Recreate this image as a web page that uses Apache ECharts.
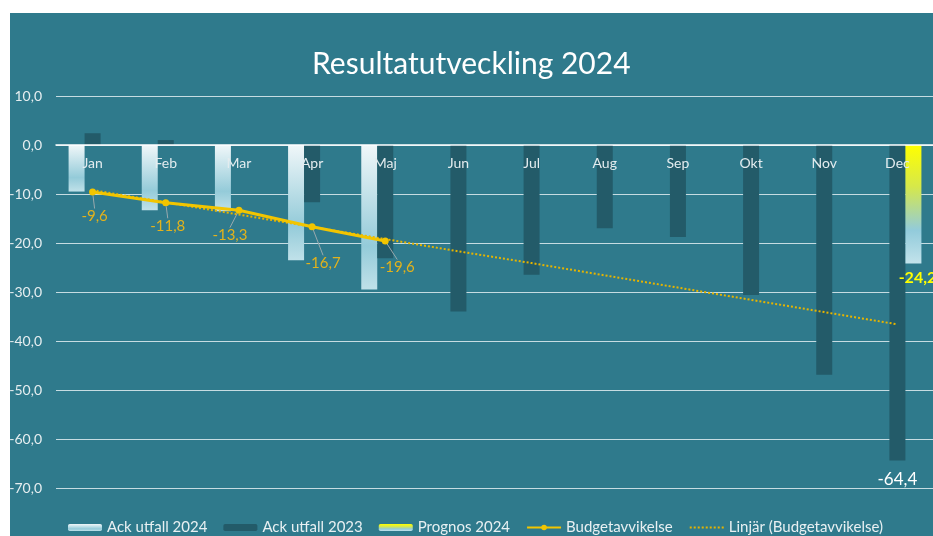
<!DOCTYPE html>
<html>
<head>
<meta charset="utf-8">
<script src="https://cdn.jsdelivr.net/npm/echarts@6/dist/echarts.min.js"></script>
<style>
  html, body { margin: 0; padding: 0; background: #fff; }
  #bg { position: absolute; left: 10px; top: 13px; width: 923px; height: 523px; background: #2F7A8C; }
  #chart { position: absolute; left: 0; top: 0; width: 933px; height: 536px; }
</style>
</head>
<body>
<div id="bg"></div>
<div id="chart"></div>
<script>
const months = ["Jan", "Feb", "Mar", "Apr", "Maj", "Jun", "Jul", "Aug", "Sep", "Okt", "Nov", "Dec"];
const ackUtfall2024 = [-9.5, -13.3, -13.5, -23.5, -29.5, null, null, null, null, null, null, null];
const ackUtfall2023 = [2.4, 1.0, 0, -11.7, -23.1, -34.0, -26.5, -17.0, -18.8, -30.6, -46.9, -64.4];
const prognos2024 = [null, null, null, null, null, null, null, null, null, null, null, -24.2];
const budgetavvikelse = [-9.6, -11.8, -13.3, -16.7, -19.6, null, null, null, null, null, null, null];
const linjar = [-9.2, -11.7, -14.2, -16.7, -19.2, -21.7, -24.1, -26.6, -29.1, -31.6, -34.1, -36.6];

const font = "Lato";
const fmt = (v) => Number(v).toFixed(1).replace(".", ",");

// label offsets for the Budgetavvikelse labels (dx, dy)
const lineLabelShift = [[2, 8], [2, 7], [-9, 9], [11, 20], [12, 10]];

const lightGrad = new echarts.graphic.LinearGradient(0, 0, 0, 1, [
  { offset: 0, color: "#f0f7f9" },
  { offset: 0.7, color: "#94cbd9" },
  { offset: 1, color: "#c0e1e9" },
]);
const prognosGrad = new echarts.graphic.LinearGradient(0, 0, 0, 1, [
  { offset: 0, color: "#ffff00" },
  { offset: 0.35, color: "#d6e84a" },
  { offset: 0.72, color: "#92cbdb" },
  { offset: 1, color: "#c3e3eb" },
]);

const chart = echarts.init(document.getElementById("chart"));
chart.setOption({
  backgroundColor: "transparent",
  animation: false,
  textStyle: { fontFamily: font },
  title: {
    text: "Resultatutveckling 2024",
    left: 307,
    top: 44,
    textStyle: { color: "#ffffff", fontSize: 30, fontWeight: "normal", fontFamily: font },
  },
  legend: {
    left: 63,
    top: 515,
    itemWidth: 34,
    itemHeight: 7,
    itemGap: 16,
    textStyle: { color: "#e8f0f2", fontSize: 15, fontFamily: font },
    data: [
      "Ack utfall 2024",
      "Ack utfall 2023",
      "Prognos 2024",
      "Budgetavvikelse",
      { name: "Linjär (Budgetavvikelse)", itemStyle: { opacity: 0 } },
    ],
  },
  grid: { left: 56, top: 96, width: 878, height: 392, outerBoundsMode: "none" },
  xAxis: {
    type: "category",
    data: months,
    z: 5,
    offset: -343,
    axisLine: { onZero: false, lineStyle: { color: "#ffffff", width: 1.5 } },
    axisTick: { show: false },
    axisLabel: { color: "#e3ecef", fontSize: 14, margin: 11, fontFamily: font },
  },
  yAxis: {
    type: "value",
    min: -70,
    max: 10,
    interval: 10,
    axisLine: { show: false },
    axisTick: { show: false },
    axisLabel: { color: "#e6eef0", fontSize: 14, margin: 14, formatter: fmt, fontFamily: font },
    splitLine: { lineStyle: { color: "#c6dce2", width: 1.2 } },
  },
  series: [
    {
      name: "Ack utfall 2024",
      type: "bar",
      barWidth: 16,
      barGap: "0%",
      itemStyle: { color: lightGrad },
      data: ackUtfall2024,
    },
    {
      name: "Ack utfall 2023",
      type: "bar",
      barWidth: 16,
      barGap: "0%",
      itemStyle: { color: "#235B69" },
      data: ackUtfall2023.map((v, i) =>
        i === 11
          ? { value: v, label: { show: true, position: "outside", distance: 10, formatter: (p) => fmt(p.value), color: "#ffffff", fontSize: 17, fontFamily: font } }
          : v
      ),
    },
    {
      name: "Prognos 2024",
      type: "bar",
      barWidth: 16,
      barGap: "0%",
      itemStyle: { color: prognosGrad },
      label: {
        show: true,
        position: "outside",
        distance: 6,
        formatter: (p) => fmt(p.value),
        color: "#ffff00",
        fontWeight: "bold",
        fontSize: 16,
        fontFamily: font,
        offset: [4, 0],
      },
      data: prognos2024,
    },
    {
      name: "Budgetavvikelse",
      type: "line",
      z: 4,
      symbol: "circle",
      symbolSize: 7,
      lineStyle: { color: "#F2C500", width: 3 },
      itemStyle: { color: "#F2C500" },
      label: {
        show: true,
        position: "bottom",
        distance: 5,
        color: "#E2B21C",
        fontSize: 15,
        fontFamily: font,
        formatter: (p) => fmt(p.value),
      },
      labelLine: { show: true, lineStyle: { color: "#9aa9ad", width: 1 } },
      labelLayout: (p) => {
        const s = lineLabelShift[p.dataIndex] || [0, 0];
        return { dx: s[0], dy: s[1] };
      },
      data: budgetavvikelse,
    },
    {
      name: "Linjär (Budgetavvikelse)",
      type: "line",
      z: 3,
      symbol: "none",
      lineStyle: { color: "#E6B400", width: 2, type: [2, 2] },
      itemStyle: { color: "#E6B400" },
      data: linjar,
    },
  ],
});
</script>
</body>
</html>
